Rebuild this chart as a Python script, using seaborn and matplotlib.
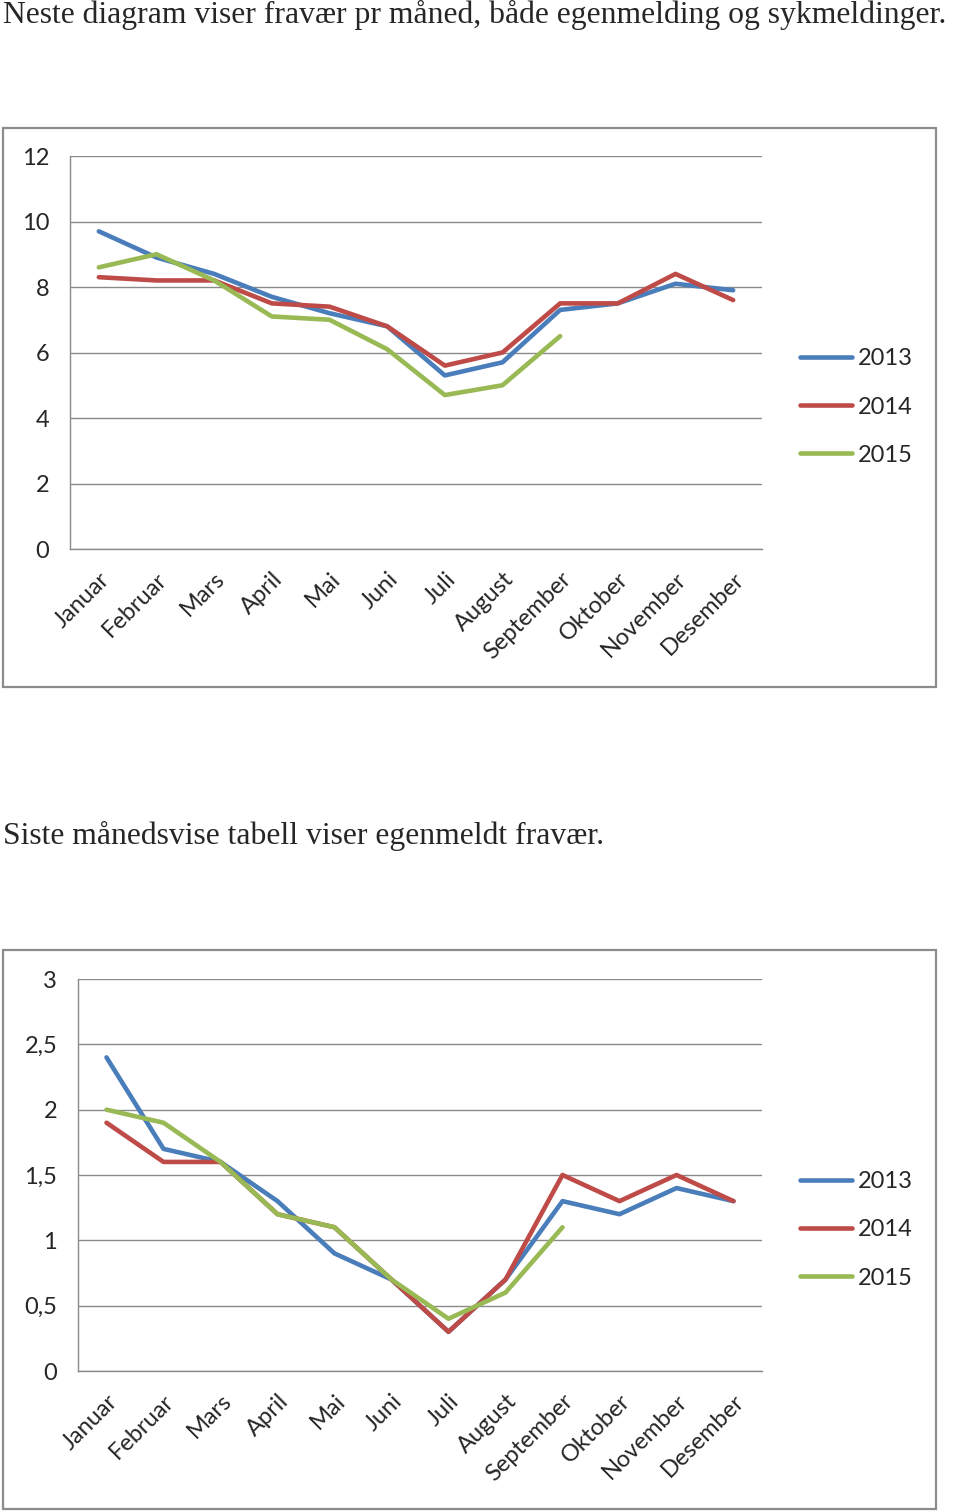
import matplotlib
matplotlib.use("Agg")
import matplotlib.pyplot as plt
from matplotlib.patches import Rectangle
from matplotlib.lines import Line2D
from matplotlib.ticker import FixedLocator, FuncFormatter
from matplotlib.transforms import ScaledTranslation
import seaborn as sns
import pandas as pd

months = ["Januar", "Februar", "Mars", "April", "Mai", "Juni", "Juli",
          "August", "September", "Oktober", "November", "Desember"]
years = ["2013", "2014", "2015"]

# Chart 1: total absence per month
total_2013 = [9.7, 8.9, 8.4, 7.7, 7.2, 6.8, 5.3, 5.7, 7.3, 7.5, 8.1, 7.9]
total_2014 = [8.3, 8.2, 8.2, 7.5, 7.4, 6.8, 5.6, 6.0, 7.5, 7.5, 8.4, 7.6]
total_2015 = [8.6, 9.0, 8.2, 7.1, 7.0, 6.1, 4.7, 5.0, 6.5]

# Chart 2: self-reported absence per month
self_2013 = [2.4, 1.7, 1.6, 1.3, 0.9, 0.7, 0.3, 0.7, 1.3, 1.2, 1.4, 1.3]
self_2014 = [1.9, 1.6, 1.6, 1.2, 1.1, 0.7, 0.3, 0.7, 1.5, 1.3, 1.5, 1.3]
self_2015 = [2.0, 1.9, 1.6, 1.2, 1.1, 0.7, 0.4, 0.6, 1.1]

title1 = "Neste diagram viser fravær pr måned, både egenmelding og sykmeldinger."
title2 = "Siste månedsvise tabell viser egenmeldt fravær."

colors = {"2013": "#4A7EBB", "2014": "#BE4B48", "2015": "#98B954"}


def long_df(series):
    rows = []
    for yr, vals in zip(years, series):
        for i, v in enumerate(vals):
            rows.append({"pos": i, "month": months[i], "year": yr, "value": v})
    return pd.DataFrame(rows)


sns.set_style("white")
plt.rcParams["font.family"] = ["Lato", "DejaVu Sans"]

W, H = 960, 1512
fig = plt.figure(figsize=(W / 100, H / 100), dpi=100)


def px_axes(x0, y0, x1, y1):
    return fig.add_axes([x0 / W, 1 - y1 / H, (x1 - x0) / W, (y1 - y0) / H])


def border(x0, y0, x1, y1):
    fig.patches.append(Rectangle((x0 / W, 1 - y1 / H), (x1 - x0) / W, (y1 - y0) / H,
                                 transform=fig.transFigure, fill=False,
                                 edgecolor="#8C8C8C", linewidth=1.6))


def comma_fmt(v, _):
    s = ("%g" % v)
    return s.replace(".", ",")


LW = 3.3
FS = 17


def draw_chart(ax, series, ymax, ystep, legend_y):
    df = long_df(series)
    sns.lineplot(data=df, x="pos", y="value", hue="year", palette=colors,
                 linewidth=LW, ax=ax, legend=False, sort=False)
    ax.set_xlim(-0.5, 11.5)
    ax.set_ylim(0, ymax)
    yt = [ystep * k for k in range(int(round(ymax / ystep)) + 1)]
    ax.yaxis.set_major_locator(FixedLocator(yt))
    ax.yaxis.set_major_formatter(FuncFormatter(comma_fmt))
    ax.grid(axis="y", color="#8A8A8A", linewidth=1.0)
    ax.set_axisbelow(True)
    ax.set_xticks(range(12))
    ax.set_xticklabels(months, rotation=45, ha="right", rotation_mode="anchor",
                       fontsize=FS)
    shift = ScaledTranslation(-4 / 100, 0, fig.dpi_scale_trans)
    for lbl in ax.get_xticklabels():
        lbl.set_transform(lbl.get_transform() + shift)
    ax.set_xticks([k - 0.5 for k in range(13)], minor=True)
    ax.tick_params(axis="x", which="major", length=0, pad=14)
    ax.tick_params(axis="x", which="minor", length=6, color="#8A8A8A", width=1.0,
                   direction="out")
    ax.tick_params(axis="y", length=7, color="#8A8A8A", width=1.0, direction="out",
                   labelsize=FS, pad=8)
    ax.set_xlabel("")
    ax.set_ylabel("")
    for s in ["top", "right"]:
        ax.spines[s].set_visible(False)
    for s in ["left", "bottom"]:
        ax.spines[s].set_color("#8A8A8A")
        ax.spines[s].set_linewidth(1.0)
    handles = [Line2D([0], [0], color=colors[y], linewidth=LW) for y in years]
    ax.legend(handles, years, loc="center left", frameon=False, fontsize=FS,
              bbox_to_anchor=(800 / W, 1 - legend_y / H), bbox_transform=fig.transFigure,
              handlelength=2.2, handletextpad=0.25, labelspacing=1.15, borderpad=0,
              borderaxespad=0)


serif = ["Liberation Serif", "DejaVu Serif"]
fig.text(3 / W, 1 - 15 / H, title1, fontsize=22.8, family=serif, va="center", ha="left")
fig.text(3 / W, 1 - 836 / H, title2, fontsize=22.8, family=serif, va="center", ha="left")

border(3, 128, 936, 687)
ax1 = px_axes(70, 156, 762, 549)
draw_chart(ax1, [total_2013, total_2014, total_2015], 12, 2, 407)

border(3, 950, 936, 1509)
ax2 = px_axes(78, 979, 762, 1371)
draw_chart(ax2, [self_2013, self_2014, self_2015], 3, 0.5, 1230)

fig.savefig("out.png", dpi=100)
